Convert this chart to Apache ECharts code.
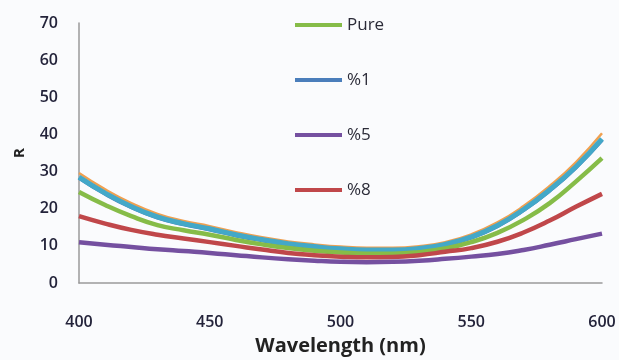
<!DOCTYPE html>
<html>
<head>
<meta charset="utf-8">
<script src="https://cdn.jsdelivr.net/npm/echarts@6/dist/echarts.min.js"></script>
<style>
  html, body { margin: 0; padding: 0; background: #fafbfd; }
  #chart { width: 619px; height: 360px; }
</style>
</head>
<body>
<div id="chart"></div>
<script>
// wavelength (nm)
const wavelength = [400, 410, 420, 430, 440, 450, 460, 470, 480, 490, 500,
                    510, 520, 530, 540, 550, 560, 570, 580, 590, 600];
const pure    = [24.5, 21.0, 18.0, 15.6, 14.2, 13.0, 11.6, 10.4, 9.4, 8.7, 8.2,
                 7.9, 7.9, 8.3, 9.3, 11.0, 13.5, 17.0, 21.5, 27.3, 33.6];
const pct1    = [28.5, 24.2, 20.6, 17.8, 16.0, 14.6, 13.0, 11.7, 10.6, 9.8, 9.2,
                 8.9, 8.9, 9.3, 10.4, 12.4, 15.5, 19.8, 25.1, 31.3, 38.8];
const pct1b   = [28.3, 24.0, 20.4, 17.6, 15.8, 14.4, 12.8, 11.5, 10.4, 9.6, 9.0,
                 8.7, 8.7, 9.1, 10.2, 12.2, 15.3, 19.6, 24.9, 31.1, 38.5];
const upper   = [29.6, 25.2, 21.5, 18.6, 16.7, 15.3, 13.7, 12.3, 11.2, 10.4, 9.8,
                 9.5, 9.5, 9.9, 11.0, 13.1, 16.3, 20.7, 26.1, 32.5, 40.3];
const pct5    = [11.0, 10.3, 9.7, 9.1, 8.6, 8.1, 7.5, 6.9, 6.4, 6.0, 5.7,
                 5.6, 5.7, 6.0, 6.5, 7.1, 7.8, 8.9, 10.3, 11.8, 13.3];
const pct8    = [18.0, 16.0, 14.3, 13.0, 12.0, 11.0, 10.0, 9.0, 8.1, 7.5, 7.1,
                 6.9, 7.0, 7.5, 8.4, 9.4, 11.1, 13.6, 16.8, 20.5, 24.0];
const legendNames = ['Pure', '%1', '%5', '%8'];

function pairs(vals) {
  return wavelength.map((w, i) => [w, vals[i]]);
}

function line(name, vals, color, width, z) {
  return {
    name: name,
    type: 'line',
    smooth: true,
    showSymbol: false,
    z: z,
    lineStyle: { color: color, width: width },
    itemStyle: { color: color },
    data: pairs(vals),
  };
}

const tickFont = { fontFamily: 'Open Sans', fontSize: 16, fontWeight: 600, color: '#23233a' };

const chart = echarts.init(document.getElementById('chart'));
chart.setOption({
  backgroundColor: '#fafbfd',
  animation: false,
  grid: { left: 79, right: 17, top: 23, bottom: 77, outerBoundsMode: 'none', containLabel: false },
  legend: {
    data: legendNames,
    orient: 'vertical',
    left: 290,
    top: 10,
    icon: 'rect',
    itemWidth: 47,
    itemHeight: 4,
    itemGap: 35,
    textStyle: { fontFamily: 'Open Sans', fontSize: 17, color: '#2b2b38', lineHeight: 20 },
  },
  xAxis: {
    type: 'value',
    min: 400,
    max: 600,
    interval: 50,
    name: 'Wavelength (nm)',
    nameLocation: 'middle',
    nameGap: 53,
    nameTextStyle: { fontFamily: 'Open Sans', fontSize: 20, fontWeight: 'bold', color: '#222' },
    axisLine: { lineStyle: { color: '#9a9a9a', width: 1.5 } },
    axisTick: { show: false },
    splitLine: { show: false },
    axisLabel: Object.assign({ margin: 31 }, tickFont),
  },
  yAxis: {
    type: 'value',
    min: 0,
    max: 70,
    interval: 10,
    name: 'R',
    nameLocation: 'middle',
    nameGap: 52,
    nameTextStyle: { fontFamily: 'Open Sans', fontSize: 15, fontWeight: 'bold', color: '#222' },
    axisLine: { show: true, lineStyle: { color: '#9a9a9a', width: 1.5 } },
    axisTick: { show: false },
    splitLine: { show: false },
    axisLabel: Object.assign({ margin: 21 }, tickFont),
  },
  series: [
    line('', upper, '#f0a050', 2.5, 1),
    line('%1', pct1b, '#4a7ebb', 4, 2),
    line('', pct1, '#43a8c8', 5, 3),
    line('Pure', pure, '#86bc48', 4.5, 4),
    line('%8', pct8, '#c0474a', 4.5, 5),
    line('%5', pct5, '#7550a0', 4.5, 6),
  ],
});
</script>
</body>
</html>
